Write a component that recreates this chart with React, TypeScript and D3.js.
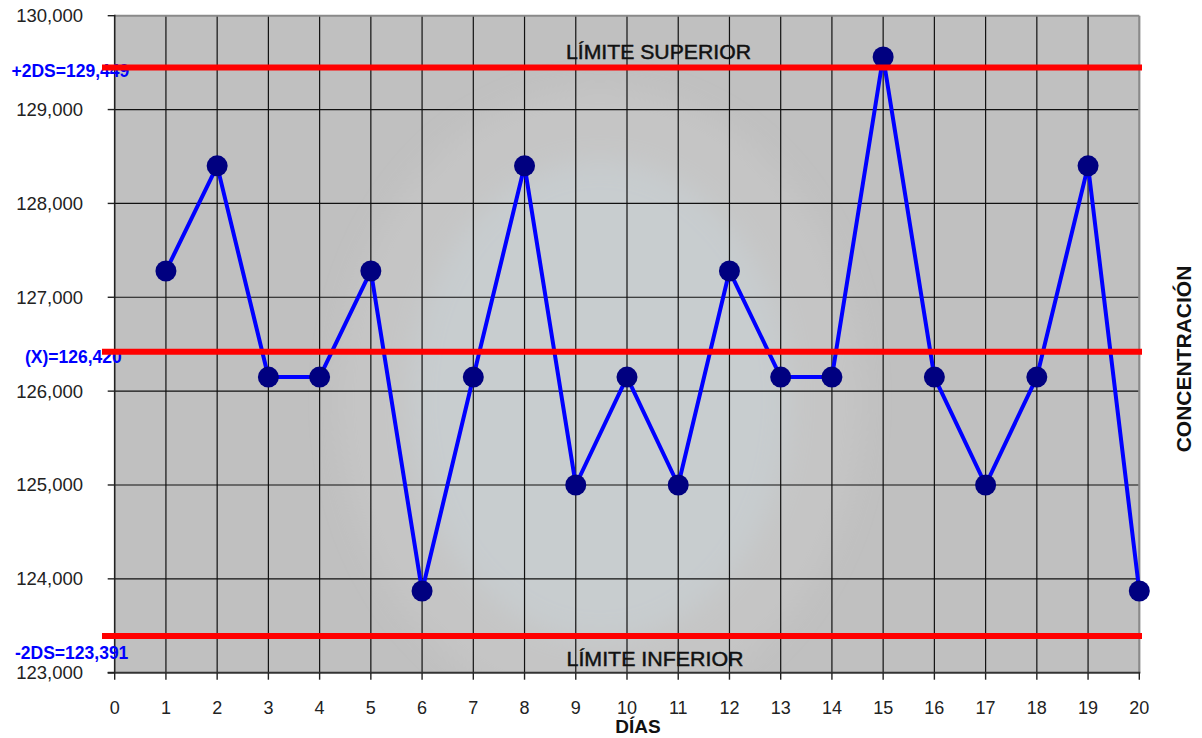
import React from "react";
import * as d3 from "d3";

// Daily control readings
const days = [1, 2, 3, 4, 5, 6, 7, 8, 9, 10, 11, 12, 13, 14, 15, 16, 17, 18, 19, 20];
const concentration = [
  127280, 128400, 126150, 126150, 127280, 123870, 126150, 128400, 125000, 126150,
  125000, 127280, 126150, 126150, 129560, 126150, 125000, 126150, 128400, 123870,
];

// Control limits
const limitValues = [129449, 126420, 123391];
const limitLabels = ["+2DS=129,449", "(X)=126,420", "-2DS=123,391"];

const xTicks = d3.range(0, 21);
const yTicks = d3.range(123000, 130001, 1000);

const W = 1202;
const H = 738;
const left = 114.7;
const right = 1139.3;
const top = 15.7;
const bottom = 672.7;

export default function App() {
  const x = d3.scaleLinear().domain([0, 20]).range([left, right]);
  const y = d3.scaleLinear().domain([123000, 130000]).range([bottom, top]);
  const fmt = d3.format(",");

  const line = d3
    .line<number>()
    .x((_, i) => x(days[i]))
    .y((d) => y(d));

  const font = "'Liberation Sans', Arial, sans-serif";

  // label placement relative to each limit line
  const labelX = [11.5, 25, 15];
  const labelDy = [9.5, 11, 23];

  return (
    <svg
      width={W}
      height={H}
      style={{ position: "absolute", left: 0, top: 0, display: "block" }}
      fontFamily={font}
    >
      <defs>
        <clipPath id="plotClip">
          <rect x={left} y={top} width={right - left} height={bottom - top} />
        </clipPath>
        <filter id="soft" x="-20%" y="-20%" width="140%" height="140%">
          <feGaussianBlur stdDeviation={14} />
        </filter>
      </defs>

      <rect x={0} y={0} width={W} height={H} fill="#ffffff" />

      {/* plot area */}
      <rect x={left} y={top} width={right - left} height={bottom - top} fill="#c0c0c0" />

      {/* faint seal in the background */}
      <g clipPath="url(#plotClip)">
        <g filter="url(#soft)">
          <ellipse cx={600} cy={400} rx={262} ry={312} fill="#cfcfcf" opacity={0.3} />
          <ellipse cx={600} cy={400} rx={190} ry={240} fill="#cdd6db" opacity={0.45} />
        </g>
      </g>

      {/* grid */}
      {xTicks.slice(1, -1).map((t) => (
        <line key={"gx" + t} x1={x(t)} x2={x(t)} y1={top} y2={bottom} stroke="#111" strokeWidth={1.2} />
      ))}
      {yTicks.slice(1, -1).map((t) => (
        <line key={"gy" + t} x1={left} x2={right} y1={y(t)} y2={y(t)} stroke="#111" strokeWidth={1.2} />
      ))}

      {/* frame */}
      <line x1={left} x2={right} y1={top} y2={top} stroke="#8a8a8a" strokeWidth={2} />
      <line x1={right} x2={right} y1={top} y2={bottom} stroke="#8a8a8a" strokeWidth={2.2} />
      <line x1={left} x2={left} y1={top - 1} y2={bottom} stroke="#222" strokeWidth={1.6} />
      <line x1={left - 7} x2={right + 1} y1={bottom} y2={bottom} stroke="#333" strokeWidth={2} />

      {/* y axis ticks and labels */}
      {yTicks.map((t) => (
        <g key={"yt" + t}>
          <line x1={left - 7} x2={left} y1={y(t)} y2={y(t)} stroke="#222" strokeWidth={1.4} />
          <text x={83} y={y(t) + 6.5} textAnchor="end" fontSize={18.5} fill="#222">
            {fmt(t)}
          </text>
        </g>
      ))}

      {/* x axis ticks and labels */}
      {xTicks.map((t) => (
        <g key={"xt" + t}>
          <line x1={x(t)} x2={x(t)} y1={bottom} y2={bottom + 7} stroke="#222" strokeWidth={1.4} />
          <text x={x(t)} y={713.5} textAnchor="middle" fontSize={18} fill="#222">
            {t}
          </text>
        </g>
      ))}

      {/* limit labels */}
      {limitValues.map((v, i) => (
        <text
          key={"ll" + i}
          x={labelX[i]}
          y={y(v) + labelDy[i]}
          fontSize={17.5}
          fontWeight="bold"
          fill="#0000ff"
        >
          {limitLabels[i]}
        </text>
      ))}

      {/* series */}
      <path d={line(concentration) ?? ""} fill="none" stroke="#0000ff" strokeWidth={4} strokeLinejoin="round" />
      {concentration.map((v, i) => (
        <circle key={"pt" + i} cx={x(days[i])} cy={y(v)} r={10.5} fill="#000080" />
      ))}

      {/* control limit lines */}
      {limitValues.map((v, i) => (
        <line key={"lim" + i} x1={102} x2={1142} y1={y(v)} y2={y(v)} stroke="#ff0000" strokeWidth={6} />
      ))}

      <text
        x={566}
        y={y(limitValues[0]) - 8.5}
        fontSize={19.5}
        fill="#111"
        stroke="#111"
        strokeWidth={0.45}
        textLength={185}
        lengthAdjust="spacingAndGlyphs"
      >
        LÍMITE SUPERIOR
      </text>
      <text
        x={566.5}
        y={y(limitValues[2]) + 29.5}
        fontSize={19.5}
        fill="#111"
        stroke="#111"
        strokeWidth={0.45}
        textLength={177}
        lengthAdjust="spacingAndGlyphs"
      >
        LÍMITE INFERIOR
      </text>

      {/* axis titles */}
      <text x={638} y={733} textAnchor="middle" fontSize={19} fontWeight="bold" fill="#111">
        DÍAS
      </text>
      <text
        transform={`translate(1190.5, 359) rotate(-90)`}
        textAnchor="middle"
        fontSize={21}
        fontWeight="bold"
        fill="#111"
      >
        CONCENTRACIÓN
      </text>
    </svg>
  );
}
